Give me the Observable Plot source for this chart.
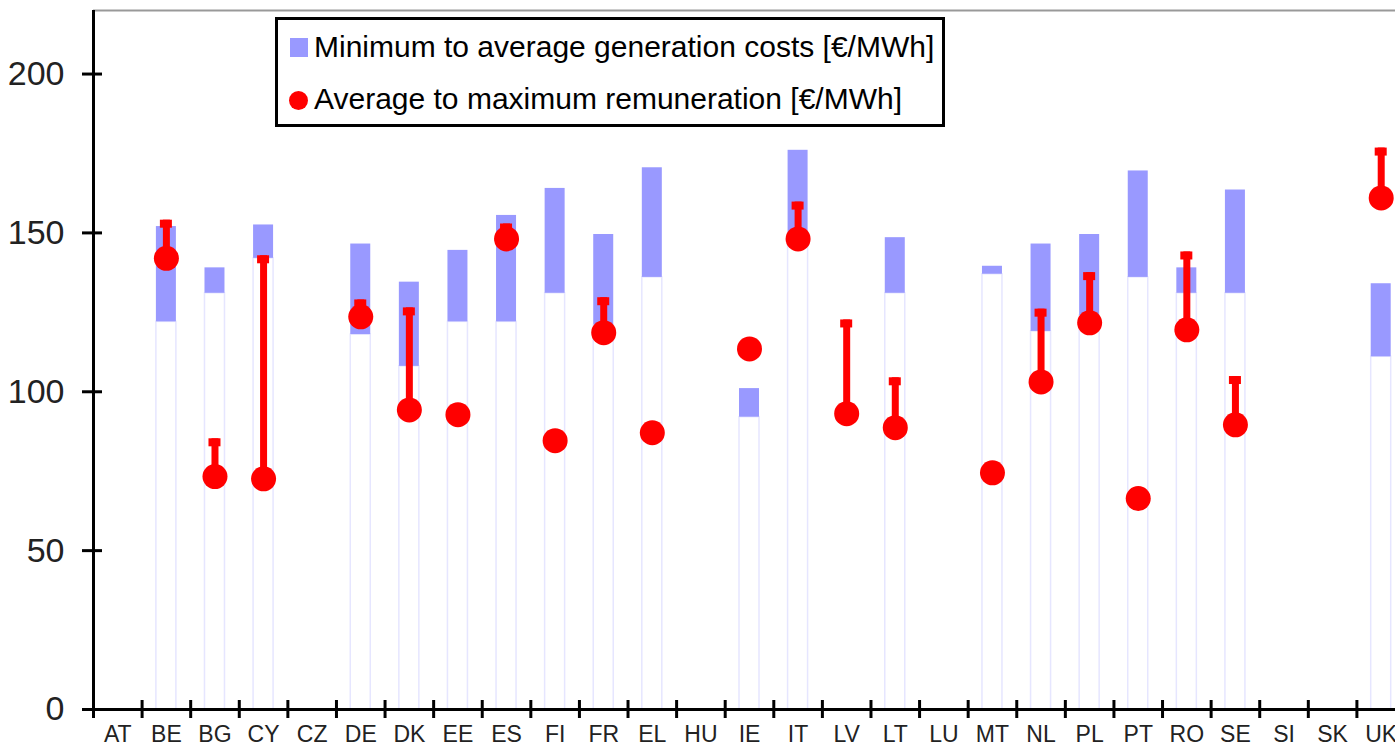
<!DOCTYPE html>
<html>
<head>
<meta charset="utf-8">
<script src="https://cdn.jsdelivr.net/npm/d3@7"></script>
<script src="https://cdn.jsdelivr.net/npm/@observablehq/plot@0.6"></script>
<style>
html, body { margin: 0; padding: 0; background: #fff; overflow: hidden; }
#wrap { position: relative; width: 1395px; height: 748px; font-family: "Liberation Sans", Arial, sans-serif; }
#wrap svg { position: absolute; left: 0; top: 0; }
.lg { position: absolute; }
#lgbox { left: 275px; top: 17px; width: 664px; height: 104px; border: 3px solid #000; background: #fff; }
#lgsq { left: 290px; top: 38px; width: 18px; height: 19px; background: #9999ff; }
#lgci { left: 289px; top: 91px; width: 19px; height: 19px; border-radius: 50%; background: #ff0000; }
.lgt { font-size: 30px; line-height: 30px; color: #000; white-space: nowrap; left: 314px; }
#lgt1 { top: 32px; }
#lgt2 { top: 84px; }
</style>
</head>
<body>
<div id="wrap"></div>
<script>
// ---- data ----
const categories = ["AT","BE","BG","CY","CZ","DE","DK","EE","ES","FI","FR","EL","HU","IE","IT","LV","LT","LU","MT","NL","PL","PT","RO","SE","SI","SK","UK"];
const genMin = [null,122,131,142,null,118,108,122,122,131,121,136,null,92,150,null,131,null,137,119,124,136,131,131,null,null,111];
const genAvg = [null,152,139,152.5,null,146.5,134.5,144.5,155.5,164,149.5,170.5,null,101,176,null,148.5,null,139.5,146.5,149.5,169.5,139,163.5,null,null,134];
const remAvg = [null,142,73.3,72.6,null,123.6,94.3,92.8,148.1,84.6,118.6,87.1,null,113.5,148.1,93.1,88.7,null,74.5,103.1,121.7,66.4,119.5,89.6,null,null,161];
const remMax = [null,154,85.2,142.8,null,128.9,126.4,null,152.8,null,129.6,null,null,null,159.7,122.6,104.4,null,null,126,137.5,null,144,104.8,null,null,176.7];
const yTicks = [0,50,100,150,200];
const legendLabels = ["Minimum to average generation costs [€/MWh]", "Average to maximum remuneration [€/MWh]"];

// ---- tables ----
const genRows = categories.map((c,i)=>({c, min: genMin[i], avg: genAvg[i]})).filter(d=>d.min!=null);
const remRows = categories.map((c,i)=>({c, avg: remAvg[i], max: remMax[i]})).filter(d=>d.avg!=null);
const remMaxRows = remRows.filter(d=>d.max!=null);

const bw = (1405 - 93) / categories.length;
const barInset = (bw - 20) / 2;
const capInset = (bw - 12) / 2;

const plot = Plot.plot({
  width: 1395,
  height: 748,
  marginTop: 10,
  marginBottom: 39,
  marginLeft: 93,
  marginRight: 0,
  x: {domain: categories, range: [93, 1405], padding: 0, round: false, axis: null, label: null},
  y: {domain: [0, 220], axis: null, label: null},
  style: {fontFamily: "'Liberation Sans', Arial, sans-serif", background: "transparent", overflow: "visible"},
  marks: [
    Plot.barY(genRows, {x: "c", y1: 0, y2: "min", fill: "white", stroke: "#e6e6ff", strokeWidth: 1.5, insetLeft: barInset, insetRight: barInset}),
    Plot.barY(genRows, {x: "c", y1: "min", y2: "avg", fill: "#9999ff", insetLeft: barInset, insetRight: barInset}),
    Plot.ruleY([220], {stroke: "#999", strokeWidth: 2}),
    Plot.ruleY([0], {stroke: "#000", strokeWidth: 3}),
    Plot.ruleX([categories[0]], {dx: -bw/2, stroke: "#000", strokeWidth: 3}),
    Plot.ruleX(categories, {x: d=>d, y1: 0, y2: 0, dx: -bw/2, insetTop: -9, insetBottom: -9, stroke: "#000", strokeWidth: 3}),
    Plot.axisY({ticks: yTicks, tickSize: 20, dx: 9, tickFormat: () => "", label: null, stroke: "#000", strokeWidth: 3}),
    Plot.axisY({ticks: yTicks, tickSize: 0, tickPadding: 29, fontSize: 34, label: null, fill: "#222"}),
    Plot.axisX({tickSize: 0, tickPadding: 16, fontSize: 23, label: null, fill: "#222"}),
    Plot.ruleX(remMaxRows, {x: "c", y1: "avg", y2: "max", stroke: "#ff0000", strokeWidth: 7}),
    Plot.barY(remMaxRows, {x: "c", y1: "max", y2: "max", insetBottom: -8, insetLeft: capInset, insetRight: capInset, fill: "#ff0000"}),
    Plot.dot(remRows, {x: "c", y: "avg", r: 12.5, fill: "#ff0000"})
  ]
});

const wrap = document.getElementById("wrap");
wrap.appendChild(plot);
function el(id, cls, text) {
  const d = document.createElement("div");
  d.id = id; d.className = "lg" + (cls ? " " + cls : "");
  if (text) d.textContent = text;
  wrap.appendChild(d);
}
el("lgbox");
el("lgsq");
el("lgci");
el("lgt1", "lgt", legendLabels[0]);
el("lgt2", "lgt", legendLabels[1]);
</script>
</body>
</html>
